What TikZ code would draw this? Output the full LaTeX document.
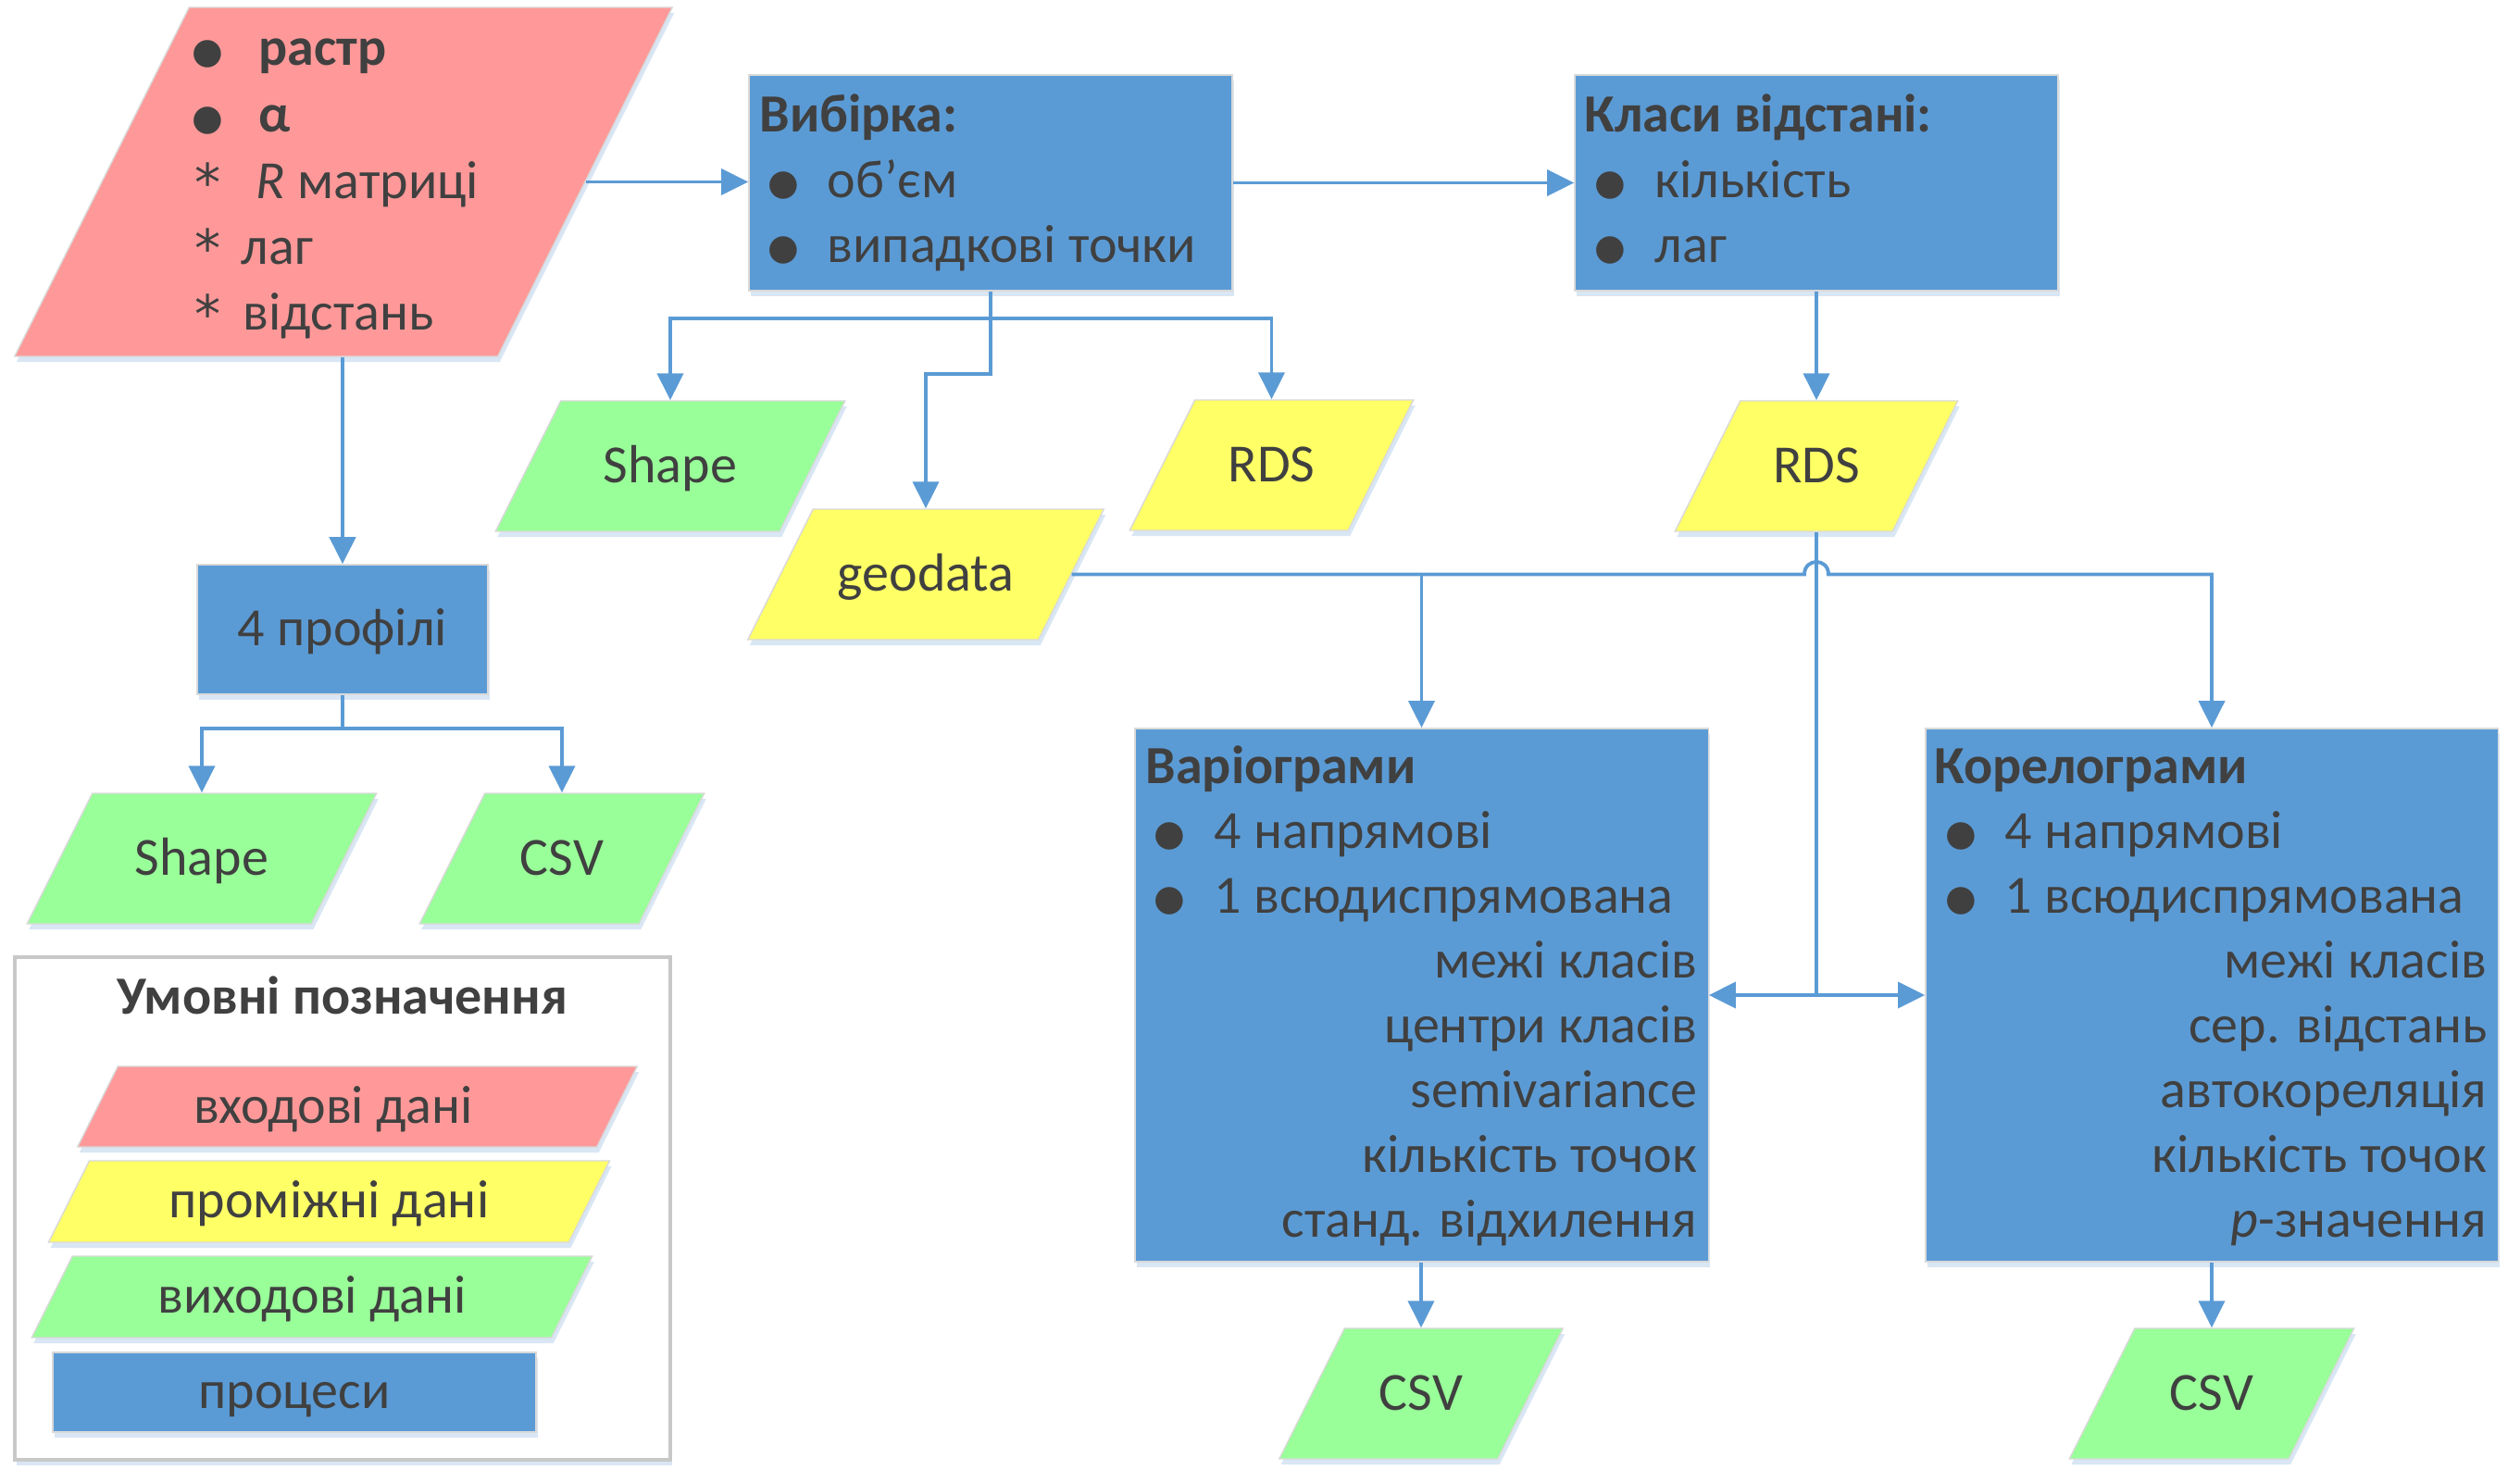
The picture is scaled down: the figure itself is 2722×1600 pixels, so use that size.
\documentclass[tikz,border=0pt]{standalone}
\usepackage{fontspec}
\setmainfont{Carlito}
\newfontfamily\symf{DejaVu Sans}
\usetikzlibrary{arrows.meta,calc,shadows}
\definecolor{pinkf}{HTML}{FF9999}
\definecolor{yellowf}{HTML}{FFFF66}
\definecolor{greenf}{HTML}{99FF99}
\definecolor{bluef}{HTML}{5B9BD5}
\definecolor{lineb}{HTML}{5B9BD5}
\definecolor{txtc}{HTML}{404040}
\definecolor{shadc}{HTML}{C9DCF0}
\definecolor{legb}{HTML}{C8C8C8}
\newcommand\mybul{{\symf\fontsize{11}{13}\selectfont\raisebox{0.6pt}{●}}}
\newcommand\mystar{{\symf\fontsize{16}{20}\selectfont\raisebox{-1pt}{*}}}
\tikzset{
  shad/.style={drop shadow={shadow xshift=0.02cm, shadow yshift=-0.06cm, fill=shadc, opacity=0.7}},
  pshape/.style={shad, draw=black!15, line width=0.4pt},
  ptext/.style={inner sep=0pt, text=txtc, font=\fontsize{16.5}{20}\selectfont, text height=11pt, text depth=1pt},
  procbox/.style={shad, fill=bluef, draw=black!15, line width=0.4pt, inner sep=0pt},
  txt/.style={inner sep=0pt, text=txtc, font=\fontsize{16.5}{20}\selectfont},
  conn/.style={draw=lineb, line width=1.1pt},
  arr/.style={conn, -{Triangle[length=0.29cm,width=0.28cm]}},
  legbox/.style={draw=legb, line width=1.2pt, fill=white, shad, inner sep=0pt},
}
% #1 fill, #2 name, #3 cx, #4 cy, #5 mid width, #6 height, #7 text
\newcommand\mypgram[7]{%
  \path[pshape, fill=#1] ({#3-#5/2-#6/4},{#4+#6/2}) -- ({#3+#5/2-#6/4},{#4+#6/2})
     -- ({#3+#5/2+#6/4},{#4-#6/2}) -- ({#3-#5/2+#6/4},{#4-#6/2}) -- cycle;
  \node[ptext, minimum width={#5*0.01cm}, minimum height={#6*0.01cm}] (#2) at (#3,#4) {#7};}
% #1 name, #2 bullet x, #3 text x, #4 baseline y, #5 text
\newcommand\myitem[5]{%
  \node[txt, anchor=base west] (#1b) at (#2,#4) {\mybul};
  \node[txt, anchor=base west] (#1) at (#3,#4) {#5};}
\begin{document}
\begin{tikzpicture}[x=0.01cm,y=-0.01cm]
\path[use as bounding box] (0,0) rectangle (2722,1600);

% ---------- input ----------
\mypgram{pinkf}{inp}{371}{196.5}{522}{377}{}
\myitem{in1}{207}{279}{71}{\textbf{растр}}
\myitem{in2}{207}{279}{143}{\textbf{α}}
\node[txt, anchor=base west] (in3s) at (210,214) {\mystar};
\node[txt, anchor=base west] (in3) at (276,214) {\textit{R} матриці};
\node[txt, anchor=base west] (in4s) at (210,285) {\mystar};
\node[txt, anchor=base west] (in4) at (260,285) {лаг};
\node[txt, anchor=base west] (in5s) at (210,356) {\mystar};
\node[txt, anchor=base west] (in5) at (262,356) {відстань};

% ---------- process boxes ----------
\node[procbox, minimum width=5.22cm, minimum height=2.33cm] (vyb) at (1070,197.5) {};
\node[txt, anchor=base west] (vybT) at (820,143) {\textbf{Вибірка:}};
\myitem{vyb1}{829}{893}{213}{об’єм}
\myitem{vyb2}{829}{893}{283}{випадкові точки}

\node[procbox, minimum width=5.22cm, minimum height=2.33cm] (kla) at (1962,197.5) {};
\node[txt, anchor=base west] (klaT) at (1711,143) {\textbf{Класи відстані:}};
\myitem{kla1}{1722}{1787}{213}{кількість}
\myitem{kla2}{1722}{1787}{283}{лаг}

\node[procbox, ptext, minimum width=3.14cm, minimum height=1.40cm] (prof) at (370,680) {4 профілі};

\node[procbox, minimum width=6.19cm, minimum height=5.76cm] (var) at (1535.5,1075) {};
\node[txt, anchor=base west] (varT) at (1237,846) {\textbf{Варіограми}};
\myitem{var1}{1246}{1311}{916}{4 напрямові}
\myitem{var2}{1246}{1311}{986}{1 всюдиспрямована}
\node[txt, anchor=base east] (var3) at (1834,1056) {межі класів};
\node[txt, anchor=base east] (var4) at (1834,1126) {центри класів};
\node[txt, anchor=base east] (var5) at (1834,1196) {semivariance};
\node[txt, anchor=base east] (var6) at (1834,1266) {кількість точок};
\node[txt, anchor=base east] (var7) at (1834,1336) {станд. відхилення};

\node[procbox, minimum width=6.18cm, minimum height=5.76cm] (kor) at (2389,1075) {};
\node[txt, anchor=base west] (korT) at (2089,846) {\textbf{Корелограми}};
\myitem{kor1}{2101}{2165}{916}{4 напрямові}
\myitem{kor2}{2101}{2165}{986}{1 всюдиспрямована}
\node[txt, anchor=base east] (kor3) at (2687,1056) {межі класів};
\node[txt, anchor=base east] (kor4) at (2687,1126) {сер. відстань};
\node[txt, anchor=base east] (kor5) at (2687,1196) {автокореляція};
\node[txt, anchor=base east] (kor6) at (2687,1266) {кількість точок};
\node[txt, anchor=base east] (kor7) at (2687,1336) {\textit{p}-значення};

% ---------- data parallelograms ----------
\mypgram{greenf}{shp1}{724}{503.5}{307}{141}{Shape}
\mypgram{yellowf}{rds1}{1373.5}{502.5}{236}{141}{RDS}
\mypgram{yellowf}{geo}{1000}{620.5}{314}{141}{geodata}
\mypgram{yellowf}{rds2}{1962}{503.5}{235}{141}{RDS}
\mypgram{greenf}{shp2}{218}{927.5}{307}{141}{Shape}
\mypgram{greenf}{csv3}{607}{927.5}{237}{141}{CSV}
\mypgram{greenf}{csv1}{1535}{1505.5}{236}{141}{CSV}
\mypgram{greenf}{csv2}{2389}{1505.5}{237}{141}{CSV}

% ---------- legend ----------
\node[legbox, minimum width=7.08cm, minimum height=5.43cm] (leg) at (370,1305.5) {};
\node[txt, anchor=base] (legT) at (370,1095) {\textbf{Умовні позначення}};
\mypgram{pinkf}{leg1}{386}{1195.5}{561}{87}{}
\node[ptext] (leg1t) at (360,1195.5) {входові дані};
\mypgram{yellowf}{leg2}{355.5}{1298}{562}{88}{проміжні дані}
\mypgram{greenf}{leg3}{337}{1401}{561.5}{88}{виходові дані}
\node[procbox, ptext, minimum width=5.22cm, minimum height=0.86cm] (leg4) at (318,1504) {процеси};

% ---------- connectors ----------
\draw[arr] (inp.east) -- (inp.east -| vyb.west);
\draw[arr] (vyb.east) -- (kla.west);
\draw[arr] (prof.north |- inp.south) -- (prof.north);
\draw[arr] (vyb.south) -- ++(0,29) -| (shp1.north);
\draw[arr] (vyb.south) -- ++(0,29) -| (rds1.north);
\draw[arr] (vyb.south) -- ++(0,89) -| (geo.north);
\draw[arr] (kla.south) -- (rds2.north);
\draw[arr] (prof.south) -- ++(0,36) -| (shp2.north);
\draw[arr] (prof.south) -- ++(0,36) -| (csv3.north);

\coordinate (hopc) at (rds2.south |- geo.east);
\coordinate (hopL) at ($(hopc)+(-13,0)$);
\coordinate (hopR) at ($(hopc)+(13,0)$);
\draw[arr] (geo.east) -- (hopL) .. controls ($(hopL)+(0,-18)$) and ($(hopR)+(0,-18)$) .. (hopR) -| (kor.north);
\draw[arr] (var.north |- geo.east) -- (var.north);

\coordinate (mid) at (rds2.south |- var.east);
\draw[conn] (rds2.south) -- (mid);
\draw[arr] (mid) -- (var.east);
\draw[arr] (mid) -- (kor.west);

\draw[arr] (csv1.north |- var.south) -- (csv1.north);
\draw[arr] (csv2.north |- kor.south) -- (csv2.north);
\end{tikzpicture}
\end{document}
